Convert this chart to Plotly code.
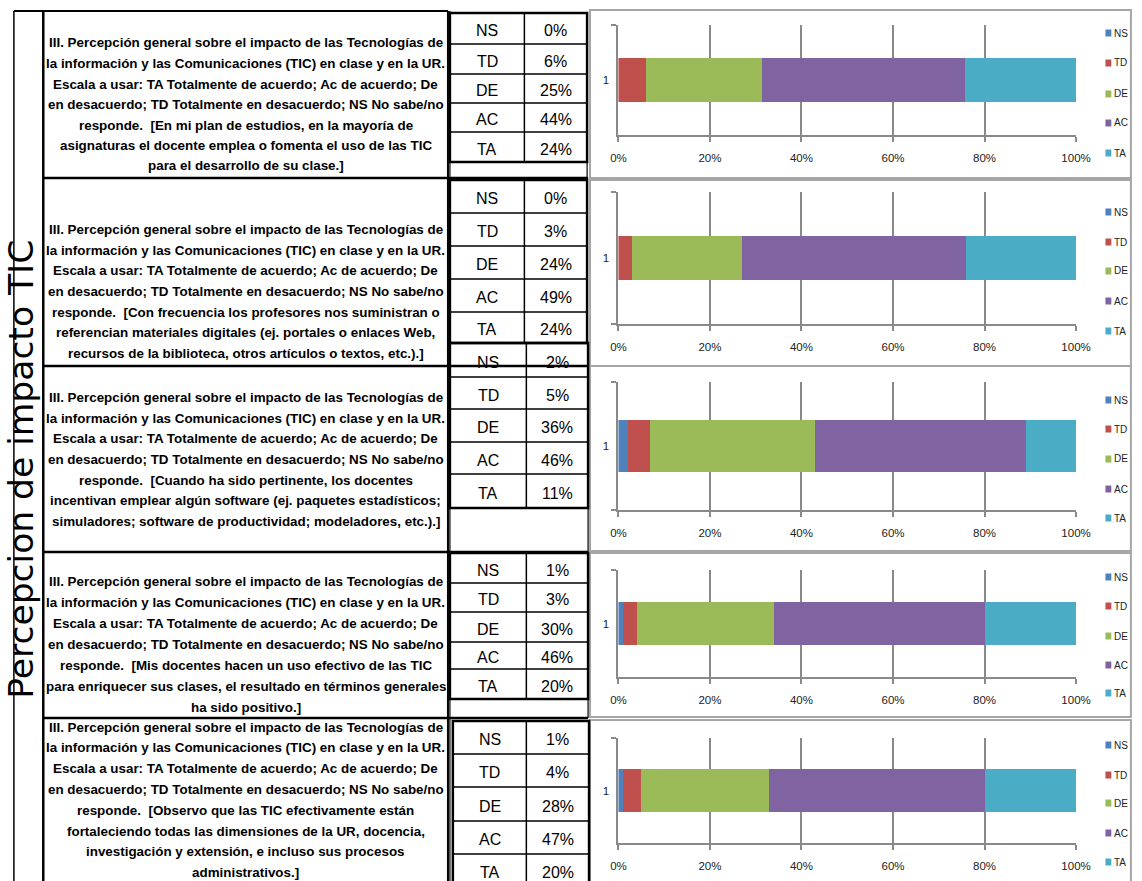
import plotly.graph_objects as go

# ---------------- data ----------------
categories = ["NS", "TD", "DE", "AC", "TA"]
q1_values = [0, 6, 25, 44, 24]
q2_values = [0, 3, 24, 49, 24]
q3_values = [2, 5, 36, 46, 11]
q4_values = [1, 3, 30, 46, 20]
q5_values = [1, 4, 28, 47, 20]
bar_category = "1"
x_tick_values = [0, 20, 40, 60, 80, 100]
x_tick_labels = ["0%", "20%", "40%", "60%", "80%", "100%"]
side_title = "Percepcion de impacto TIC"

intro_lines = [
    "III. Percepción general sobre el impacto de las Tecnologías de",
    "la información y las Comunicaciones (TIC) en clase y en la UR.",
    "Escala a usar: TA Totalmente de acuerdo; Ac de acuerdo; De",
    "en desacuerdo; TD Totalmente en desacuerdo; NS No sabe/no",
]
q1_lines = ["responde.  [En mi plan de estudios, en la mayoría de",
            "asignaturas el docente emplea o fomenta el uso de las TIC",
            "para el desarrollo de su clase.]"]
q2_lines = ["responde.  [Con frecuencia los profesores nos suministran o",
            "referencian materiales digitales (ej. portales o enlaces Web,",
            "recursos de la biblioteca, otros artículos o textos, etc.).]"]
q3_lines = ["responde.  [Cuando ha sido pertinente, los docentes",
            "incentivan emplear algún software (ej. paquetes estadísticos;",
            "simuladores; software de productividad; modeladores, etc.).]"]
q4_lines = ["responde.  [Mis docentes hacen un uso efectivo de las TIC",
            "para enriquecer sus clases, el resultado en términos generales",
            "ha sido positivo.]"]
q5_lines = ["responde.  [Observo que las TIC efectivamente están",
            "fortaleciendo todas las dimensiones de la UR, docencia,",
            "investigación y extensión, e incluso sus procesos",
            "administrativos.]"]

all_values = [q1_values, q2_values, q3_values, q4_values, q5_values]
all_lines = [q1_lines, q2_lines, q3_lines, q4_lines, q5_lines]

# ---------------- style / layout ----------------
colors = ["#4F81BD", "#C0504D", "#9BBB59", "#8064A2", "#4BACC6"]
W, H = 1142, 881
GRID = "#898989"
TEXT_FONT = "Liberation Sans"
CHART_FONT = "Liberation Sans"


def fx(x):
    return x / W


def fy(y):
    return 1 - y / H


# chart geometry (pixels)
charts = [
    dict(frame=(10, 178), plot=(25, 135), bw=0.40, leg=[33, 63, 94, 123, 153]),
    dict(frame=(180, 366), plot=(192, 324), bw=0.34, leg=[212, 242, 271, 301, 331]),
    dict(frame=(366, 551), plot=(382, 510), bw=0.41, leg=[400, 429, 459, 489, 518]),
    dict(frame=(553, 717), plot=(570, 677), bw=0.40, leg=[577, 606, 636, 665, 693]),
    dict(frame=(720, 892), plot=(738, 843), bw=0.41, leg=[745, 775, 803, 833, 862]),
]
PX0, PX1 = 623, 1090
FRAME_X0 = 594
LEG_SW0, LEG_SW1, LEG_TX = 1120, 1126, 1128

# column borders
COL_OUT, COL_IN, COL_R = 6, 36, 449
TEXT_CX = (COL_IN + COL_R) / 2

# text rows: first-line y, line step
text_rows = [(43, 20.5), (230, 20.5), (398, 20.5), (581, 21.0), (727, 20.8)]
# tables: left, mid, right, row lines
tables = [
    (451, 527, 591, [13, 44, 74, 103, 132, 162]),
    (451, 527, 591, [180, 213, 246, 279, 312, 343]),
    (451, 529, 592, [343, 377, 409, 442, 474, 508]),
    (451, 529, 592, [553, 583, 612, 642, 669, 699]),
    (454, 529, 593, [721, 754, 787, 821, 854, 887]),
]

fig = go.Figure()
layout_axes = {}
shapes = []
annotations = []


def line(x0, y0, x1, y1, w=1.5, c="black"):
    shapes.append(dict(type="line", xref="paper", yref="paper",
                       x0=fx(x0), y0=fy(y0), x1=fx(x1), y1=fy(y1),
                       line=dict(color=c, width=w)))


for k, (vals, ch) in enumerate(zip(all_values, charts)):
    xa = "x" if k == 0 else f"x{k+1}"
    ya = "y" if k == 0 else f"y{k+1}"
    for cat, v, col in zip(categories, vals, colors):
        fig.add_trace(go.Bar(
            x=[v], y=[bar_category], orientation="h", name=cat,
            marker=dict(color=col, line=dict(width=0)),
            width=ch["bw"], xaxis=xa, yaxis=ya, showlegend=False,
        ))
    top, bot = ch["plot"]
    layout_axes["xaxis" if k == 0 else f"xaxis{k+1}"] = dict(
        domain=[fx(PX0), fx(PX1)], anchor=ya, range=[0, 100],
        tickvals=x_tick_values, ticktext=x_tick_labels,
        showgrid=True, gridcolor=GRID, gridwidth=2, zeroline=False,
        showline=True, linecolor=GRID, linewidth=2,
        ticks="outside", ticklen=5, tickwidth=2, tickcolor=GRID,
        ticklabelstandoff=6,
        tickfont=dict(family=CHART_FONT, size=11.5, color="#222222"),
        fixedrange=True,
    )
    layout_axes["yaxis" if k == 0 else f"yaxis{k+1}"] = dict(
        domain=[fy(bot), fy(top)], anchor=xa, type="category",
        range=[-0.5, 0.5], showgrid=False, zeroline=False,
        showline=True, linecolor=GRID, linewidth=2,
        ticks="outside", tickson="boundaries", ticklen=5, tickwidth=2,
        tickcolor=GRID, ticklabelstandoff=5,
        tickfont=dict(family=CHART_FONT, size=11.5, color="#222222"),
        fixedrange=True,
    )
    # chart frame
    f0, f1 = ch["frame"]
    shapes.append(dict(type="rect", xref="paper", yref="paper", layer="below",
                       x0=fx(FRAME_X0), x1=fx(1146), y0=fy(f1), y1=fy(f0),
                       line=dict(color="#a6a6a6", width=2)))
    # legend
    for cat, col, ly in zip(categories, colors, ch["leg"]):
        shapes.append(dict(type="rect", xref="paper", yref="paper",
                           x0=fx(LEG_SW0), x1=fx(LEG_SW1), y0=fy(ly + 3.5), y1=fy(ly - 3.5),
                           fillcolor=col, line=dict(width=0)))
        annotations.append(dict(x=fx(LEG_TX), y=fy(ly), xref="paper", yref="paper",
                                text=cat, showarrow=False, xanchor="left",
                                yanchor="middle", borderpad=0,
                                font=dict(family=CHART_FONT, size=10, color="#222222")))

# ---------------- question text column ----------------
for (y0, step), extra in zip(text_rows, all_lines):
    for i, t in enumerate(intro_lines + extra):
        annotations.append(dict(x=fx(TEXT_CX), y=fy(y0 + i * step), xref="paper", yref="paper",
                                text=t, showarrow=False, xanchor="center", yanchor="middle",
                                font=dict(family=TEXT_FONT, size=13.4, color="black", weight="bold")))

# ---------------- tables ----------------
for (L, M, R, rows), vals in zip(tables, all_values):
    shapes.append(dict(type="rect", xref="paper", yref="paper",
                       x0=fx(L), x1=fx(R), y0=fy(rows[-1]), y1=fy(rows[0]),
                       line=dict(color="black", width=2.5)))
    for r in rows[1:-1]:
        line(L, r, R, r, 1.5)
    line(M, rows[0], M, rows[-1], 1.5)
    for i, (cat, v) in enumerate(zip(categories, vals)):
        yc = (rows[i] + rows[i + 1]) / 2 + 2
        annotations.append(dict(x=fx((L + M) / 2), y=fy(yc), xref="paper", yref="paper",
                                text=cat, showarrow=False, xanchor="center", yanchor="middle",
                                font=dict(family=TEXT_FONT, size=16, color="black")))
        annotations.append(dict(x=fx((M + R) / 2), y=fy(yc), xref="paper", yref="paper",
                                text=f"{v}%", showarrow=False, xanchor="center", yanchor="middle",
                                font=dict(family=TEXT_FONT, size=16, color="black")))

# ---------------- outer grid lines ----------------
line(COL_OUT, 11, COL_OUT, 881, 1.5)
line(COL_OUT, 11, COL_R, 11, 2)
line(COL_IN, 11, COL_IN, 881, 2.5)
line(COL_R, 11, COL_R, 881, 2)
line(451, 11, 451, 881, 1.2)
for y in [178, 366, 552, 718]:
    line(COL_IN, y, 592, y, 2.5)
line(591, 162, 591, 178, 1.2)
line(592, 508, 592, 552, 1.2)
line(592, 699, 592, 718, 1.2)

# side title
annotations.append(dict(x=fx(13), y=fy(469), xref="paper", yref="paper",
                        text=side_title, showarrow=False, textangle=-90,
                        xanchor="center", yanchor="middle",
                        font=dict(family="DejaVu Sans", size=34.5, color="black")))

fig.update_layout(
    width=W, height=H, margin=dict(l=0, r=0, t=0, b=0),
    paper_bgcolor="white", plot_bgcolor="white",
    barmode="stack", barnorm="percent",
    shapes=shapes, annotations=annotations, showlegend=False,
    **layout_axes,
)

fig.write_html(
    "out.html",
    config={"responsive": False, "displayModeBar": False},
    post_script=(
        "document.body.style.margin='0';"
        "document.body.style.overflow='hidden';"
        "document.documentElement.style.overflow='hidden';"
    ),
)
